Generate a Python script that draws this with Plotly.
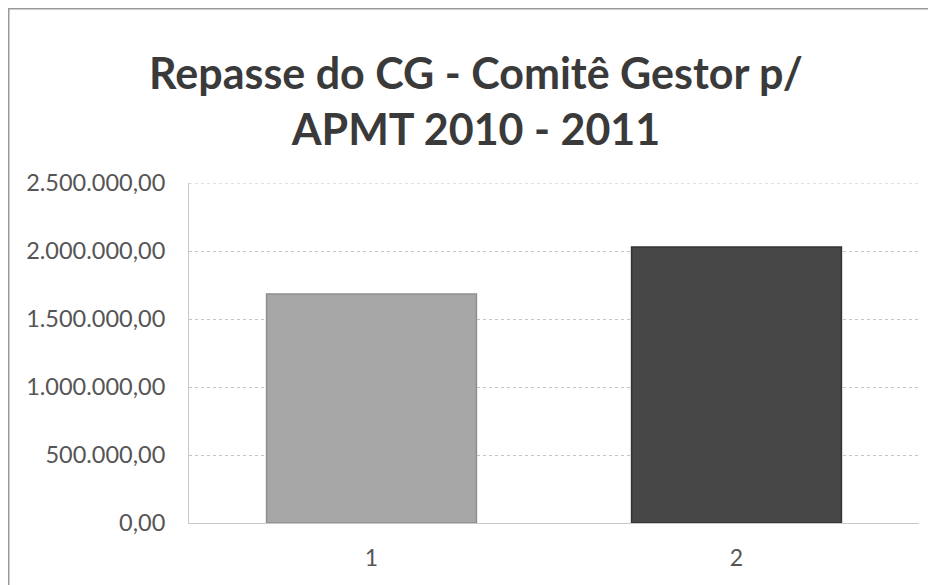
import plotly.graph_objects as go

categories = ["1", "2"]
values = [1684000, 2029000]
bar_colors = ["#a7a7a7", "#474747"]
title_text = "Repasse do CG - Comitê Gestor p/<br>APMT 2010 - 2011"
y_ticks = [0, 500000, 1000000, 1500000, 2000000, 2500000]

fig = go.Figure()
fig.add_trace(go.Bar(
    x=categories, y=values,
    marker=dict(color=bar_colors, line=dict(color=["#8e8e8e", "#333333"], width=1.5)),
    width=0.575,
))

# page body has an 8px margin, so figure coords = page coords - 8
W, H = 928, 577
L, R, T, B = 181, 17, 175, 62
pw, ph = W - L - R, H - T - B

def px_x(p):
    return (p - L) / pw

def px_y(p):
    return (H - B - p) / ph

fig.update_layout(
    width=W, height=H,
    margin=dict(l=L, r=R, t=T, b=B),
    paper_bgcolor="white", plot_bgcolor="white",
    separators=",.",
    showlegend=False,
    font=dict(family="Lato, Open Sans, sans-serif", color="#555555"),
    title=dict(text=title_text, x=468 / W, xref="container", xanchor="center",
               y=1 - 81 / H, yref="container", yanchor="middle",
               font=dict(family="Lato, Open Sans, sans-serif", size=43, color="#3a3a3a", weight="bold")),
    xaxis=dict(type="category", showgrid=False, showline=True, linecolor="#c8c8c8",
               tickfont=dict(size=23, color="#555555"), ticks="", ticklabelstandoff=14),
    yaxis=dict(range=[0, 2500000], tickvals=y_ticks, tickformat=",.2f",
               showgrid=True, gridcolor="#c4c4c4", gridwidth=1, griddash="dot",
               showline=True, linecolor="#c8c8c8", zeroline=False,
               tickfont=dict(size=23.5, color="#555555"), ticks="", ticklabelstandoff=18),
    shapes=[
        dict(type="line", xref="paper", yref="y", x0=0, x1=1, y0=y_ticks[-1], y1=y_ticks[-1],
             line=dict(color="#c4c4c4", width=1, dash="dot")),
        dict(type="line", xref="paper", yref="paper", x0=px_x(0), x1=px_x(W), y0=px_y(0.75), y1=px_y(0.75),
             line=dict(color="#9a9a9a", width=1.5)),
        dict(type="line", xref="paper", yref="paper", x0=px_x(0.75), x1=px_x(0.75), y0=px_y(0), y1=px_y(H),
             line=dict(color="#9a9a9a", width=1.5)),
    ],
)

fig.write_html("out.html")
